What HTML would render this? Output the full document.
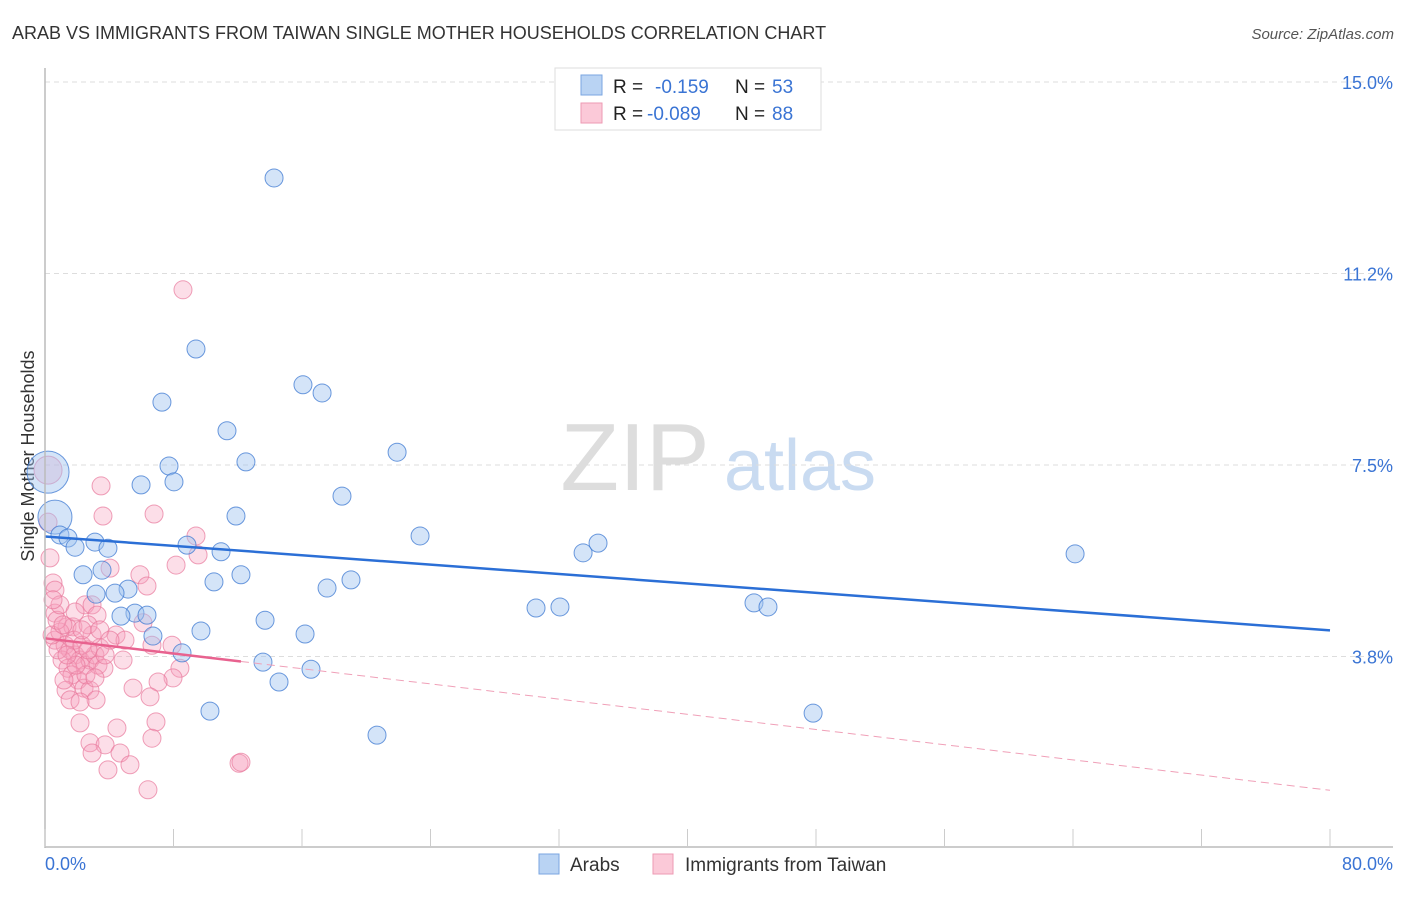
<!DOCTYPE html>
<html><head><meta charset="utf-8"><style>
body{margin:0;background:#fff;font-family:"Liberation Sans",sans-serif;}
svg text{font-family:"Liberation Sans",sans-serif;}
</style></head><body>
<svg id="chart" width="1406" height="892">
<text x="12" y="39" font-size="18" fill="#333">ARAB VS IMMIGRANTS FROM TAIWAN SINGLE MOTHER HOUSEHOLDS CORRELATION CHART</text>
<text x="1394" y="39" font-size="15" fill="#555" font-style="italic" text-anchor="end">Source: ZipAtlas.com</text>
<text x="34" y="456" font-size="18" fill="#333" text-anchor="middle" transform="rotate(-90 34 456)">Single Mother Households</text>
<g><text x="635" y="490" font-size="96" fill="#ddd" font-family="Liberation Serif" text-anchor="middle">ZIP</text><text x="800" y="490" font-size="72" fill="#c9dbf1" text-anchor="middle">atlas</text></g>
<g id="grid"></g><g id="marks"></g><g id="axes"></g>
<g>
<rect x="555" y="68" width="266" height="62" fill="#fff" stroke="#ddd"/>
<rect x="581" y="75" width="21" height="20" fill="#b9d3f3" stroke="#7aa6e0"/>
<rect x="581" y="103" width="21" height="20" fill="#fbc9d8" stroke="#ee9ab3"/>
<text x="613" y="93" font-size="19" fill="#222">R =</text><text x="655" y="93" font-size="19" fill="#3a74d4">-0.159</text>
<text x="735" y="93" font-size="19" fill="#222">N =</text><text x="772" y="93" font-size="19" fill="#3a74d4">53</text>
<text x="613" y="120" font-size="19" fill="#222">R =</text><text x="647" y="120" font-size="19" fill="#3a74d4">-0.089</text>
<text x="735" y="120" font-size="19" fill="#222">N =</text><text x="772" y="120" font-size="19" fill="#3a74d4">88</text>
</g>
<g>
<rect x="539" y="854" width="20" height="20" fill="#b9d3f3" stroke="#7aa6e0"/>
<text x="570" y="871" font-size="19" fill="#333">Arabs</text>
<rect x="653" y="854" width="20" height="20" fill="#fbc9d8" stroke="#ee9ab3"/>
<text x="685" y="871" font-size="19" fill="#333">Immigrants from Taiwan</text>
</g>
</svg>
<script>
const yTicks=[3.75,7.5,11.25,15];
const yTickLabels=["3.8%","7.5%","11.2%","15.0%"];
const xTicks=[0,8,16,24,32,40,48,56,64,72,80];
const arabX=[14.26,9.40,7.28,16.06,17.25,11.33,21.92,7.72,12.51,5.98,8.03,18.49,11.89,0.62,0.19,0.93,1.43,1.87,3.11,3.92,8.84,10.96,23.35,33.50,34.43,64.13,2.37,3.55,5.17,10.52,12.20,19.05,17.56,3.18,4.36,5.60,6.35,4.73,13.70,30.57,32.06,44.14,45.01,6.72,9.71,16.19,8.53,13.57,16.56,14.57,10.27,47.82,20.67];
const arabY=[13.12,9.77,8.73,9.07,8.91,8.17,7.75,7.48,7.56,7.11,7.17,6.89,6.50,6.48,7.36,6.13,6.07,5.89,5.99,5.87,5.93,5.80,6.11,5.78,5.97,5.76,5.35,5.44,5.07,5.21,5.35,5.25,5.09,4.97,4.99,4.60,4.56,4.54,4.46,4.70,4.72,4.80,4.72,4.15,4.25,4.19,3.82,3.64,3.50,3.25,2.68,2.64,2.21];
const arabR=[9,9,9,9,9,9,9,9,9,9,9,9,9,17,21,9,9,9,9,9,9,9,9,9,9,9,9,9,9,9,9,9,9,9,9,9,9,9,9,9,9,9,9,9,9,9,9,9,9,9,9,9,9];
const twX=[8.59,3.49,3.61,6.79,9.40,9.53,8.16,4.05,5.91,6.35,0.50,0.62,0.31,0.19,0.19,2.49,2.93,3.24,0.62,1.37,1.74,4.42,4.98,6.10,6.66,7.91,4.86,8.40,7.97,7.04,5.48,6.54,2.18,4.48,6.91,6.66,2.80,3.74,2.93,4.67,5.29,3.92,12.08,12.20,6.41,
0.62,0.93,1.25,1.56,1.87,2.18,2.49,2.80,3.11,3.42,1.06,1.43,1.68,2.05,2.43,2.80,3.18,1.31,0.81,0.44,1.81,2.30,2.68,2.93,3.30,3.67,2.55,1.93,1.18,1.56,2.18,0.75,1.12,2.68,3.42,4.05,3.74,3.11,0.93,0.50,1.87,2.30,1.37];
const twY=[10.93,7.09,6.50,6.54,6.11,5.74,5.54,5.48,5.35,5.13,5.19,5.05,5.68,7.40,6.38,4.76,4.76,4.56,4.60,4.33,4.33,4.17,4.07,4.41,3.97,3.97,3.68,3.52,3.33,3.25,3.13,2.96,2.45,2.35,2.47,2.15,2.06,2.02,1.86,1.86,1.63,1.53,1.66,1.68,1.14,
4.07,4.23,3.97,3.88,3.78,3.68,3.58,3.68,3.78,3.92,3.68,3.52,3.39,3.29,3.13,3.09,2.90,3.09,3.88,4.17,4.07,3.97,3.88,4.17,3.58,3.52,3.39,3.58,3.29,2.90,2.86,4.46,4.37,4.37,4.27,4.07,3.78,3.33,4.76,4.86,4.62,4.27,3.78];
const NS="http://www.w3.org/2000/svg";
const X0=45,X1=1330,Y0=848,PY=51.07;
function sx(v){return X0+v/80*(X1-X0);}
function sy(v){return Y0-v*PY;}
function mk(t,a,p){const e=document.createElementNS(NS,t);for(const k in a)e.setAttribute(k,a[k]);p.appendChild(e);return e;}
const grid=document.getElementById('grid'),marks=document.getElementById('marks'),axes=document.getElementById('axes');
yTicks.forEach((t,i)=>{
 const l=mk('line',{x1:45,x2:1393,y1:sy(t),y2:sy(t),stroke:'#ddd','stroke-dasharray':'5,4'},grid);
 
 
 const tx=mk('text',{x:1393,y:sy(t)+7,'font-size':18,fill:'#3a74d4','text-anchor':'end'},axes);
 tx.textContent=yTickLabels[i];
 
 
});
mk('line',{x1:45,x2:45,y1:68,y2:848,stroke:'#bbb','stroke-width':1.5},axes);
mk('line',{x1:45,x2:1393,y1:847,y2:847,stroke:'#bbb','stroke-width':1.5},axes);
xTicks.forEach(t=>{
 const l=mk('line',{x1:sx(t),x2:sx(t),y1:829,y2:847,stroke:'#ccc'},axes);
 
 
});
[[0,"0.0%","start",45],[80,"80.0%","end",1393]].forEach(d=>{
 const tx=mk('text',{x:d[3],y:870,'font-size':18,fill:'#3a74d4','text-anchor':d[2]},axes);
 tx.textContent=d[1];
 
 
});
function reg(xs,ys){const n=xs.length;let mx=0,my=0;for(let i=0;i<n;i++){mx+=xs[i];my+=ys[i];}mx/=n;my/=n;let a=0,b=0;for(let i=0;i<n;i++){a+=(xs[i]-mx)*(ys[i]-my);b+=(xs[i]-mx)**2;}const s=a/b;return [my-s*mx,s];}
twX.forEach((x,i)=>{
 const c=mk('circle',{cx:sx(x),cy:sy(twY[i]),r:(i==13?14:9),fill:'rgba(246,160,190,0.35)',stroke:'rgba(232,120,155,0.7)','stroke-width':1},marks);
 
 
});
arabX.forEach((x,i)=>{
 const c=mk('circle',{cx:sx(x),cy:sy(arabY[i]),r:arabR[i],fill:'rgba(160,196,240,0.45)',stroke:'rgba(60,120,210,0.75)','stroke-width':1},marks);
 
 
});
const rb=reg(arabX,arabY);
const lb=mk('line',{x1:sx(0),y1:sy(rb[0]),x2:sx(80),y2:sy(rb[0]+rb[1]*80),stroke:'#2b6fd6','stroke-width':2.5},marks);


const rp=reg(twX,twY);const mxp=Math.max(...twX);
const lp=mk('line',{x1:sx(0),y1:sy(rp[0]),x2:sx(mxp),y2:sy(rp[0]+rp[1]*mxp),stroke:'#e8628f','stroke-width':2.5},marks);


const ld=mk('line',{x1:sx(mxp),y1:sy(rp[0]+rp[1]*mxp),x2:sx(80),y2:sy(rp[0]+rp[1]*80),stroke:'#f0a0b8','stroke-width':1,'stroke-dasharray':'8,5'},marks);


</script>
</body></html>
